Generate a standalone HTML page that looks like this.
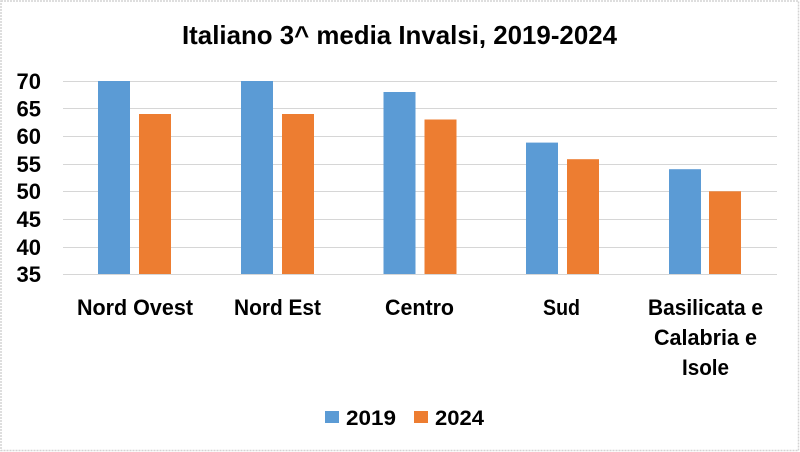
<!DOCTYPE html>
<html><head><meta charset="utf-8"><style>
html,body{margin:0;padding:0;background:#fff;}
svg{display:block;}
text{font-family:"Liberation Sans",sans-serif;font-weight:bold;fill:#000;}
</style></head><body>
<svg width="800" height="452" viewBox="0 0 800 452" xmlns="http://www.w3.org/2000/svg">
<rect x="0" y="0" width="800" height="452" fill="#fff"/>
<rect x="1" y="1" width="797.5" height="449.5" fill="none" stroke="#d3d3d3" stroke-width="1.5" stroke-dasharray="2,1"/>
<text x="182" y="44" font-size="26" textLength="435" lengthAdjust="spacingAndGlyphs">Italiano 3^ media Invalsi, 2019-2024</text>
<g stroke="#d6d6d6" stroke-width="1">
<line x1="63" x2="777" y1="81.5" y2="81.5"/>
<line x1="63" x2="777" y1="108.5" y2="108.5"/>
<line x1="63" x2="777" y1="136.5" y2="136.5"/>
<line x1="63" x2="777" y1="164.5" y2="164.5"/>
<line x1="63" x2="777" y1="191.5" y2="191.5"/>
<line x1="63" x2="777" y1="219.5" y2="219.5"/>
<line x1="63" x2="777" y1="247.5" y2="247.5"/>
<line x1="63" x2="777" y1="274.5" y2="274.5"/>
</g>
<g font-size="22" text-anchor="end">
<text x="41" y="89">70</text>
<text x="41" y="116.5">65</text>
<text x="41" y="144">60</text>
<text x="41" y="172">55</text>
<text x="41" y="199">50</text>
<text x="41" y="227">45</text>
<text x="41" y="255">40</text>
<text x="41" y="282">35</text>
</g>
<g fill="#5b9bd5">
<rect x="98" y="81" width="32" height="193"/>
<rect x="241" y="81" width="32" height="193"/>
<rect x="383.5" y="92" width="32" height="182"/>
<rect x="526" y="142.6" width="32" height="131.4"/>
<rect x="669" y="169.2" width="32" height="104.8"/>
</g>
<g fill="#ed7d31">
<rect x="139" y="114" width="32" height="160"/>
<rect x="282" y="114" width="32" height="160"/>
<rect x="424.5" y="119.5" width="32" height="154.5"/>
<rect x="567" y="159.2" width="32" height="114.8"/>
<rect x="709" y="191.3" width="32" height="82.7"/>
</g>
<g font-size="22">
<text x="77" y="315" textLength="116" lengthAdjust="spacingAndGlyphs">Nord Ovest</text>
<text x="234" y="315" textLength="87" lengthAdjust="spacingAndGlyphs">Nord Est</text>
<text x="385" y="315" textLength="69" lengthAdjust="spacingAndGlyphs">Centro</text>
<text x="543" y="315" textLength="37" lengthAdjust="spacingAndGlyphs">Sud</text>
<text x="648" y="315" textLength="115" lengthAdjust="spacingAndGlyphs">Basilicata e</text>
<text x="654" y="345" textLength="103" lengthAdjust="spacingAndGlyphs">Calabria e</text>
<text x="682" y="375" textLength="47" lengthAdjust="spacingAndGlyphs">Isole</text>
</g>
<rect x="325" y="411" width="14" height="12" fill="#5b9bd5"/>
<text x="346" y="425" font-size="21" textLength="50" lengthAdjust="spacingAndGlyphs">2019</text>
<rect x="414" y="411" width="14" height="12" fill="#ed7d31"/>
<text x="435" y="425" font-size="21" textLength="49" lengthAdjust="spacingAndGlyphs">2024</text>
</svg>
</body></html>
